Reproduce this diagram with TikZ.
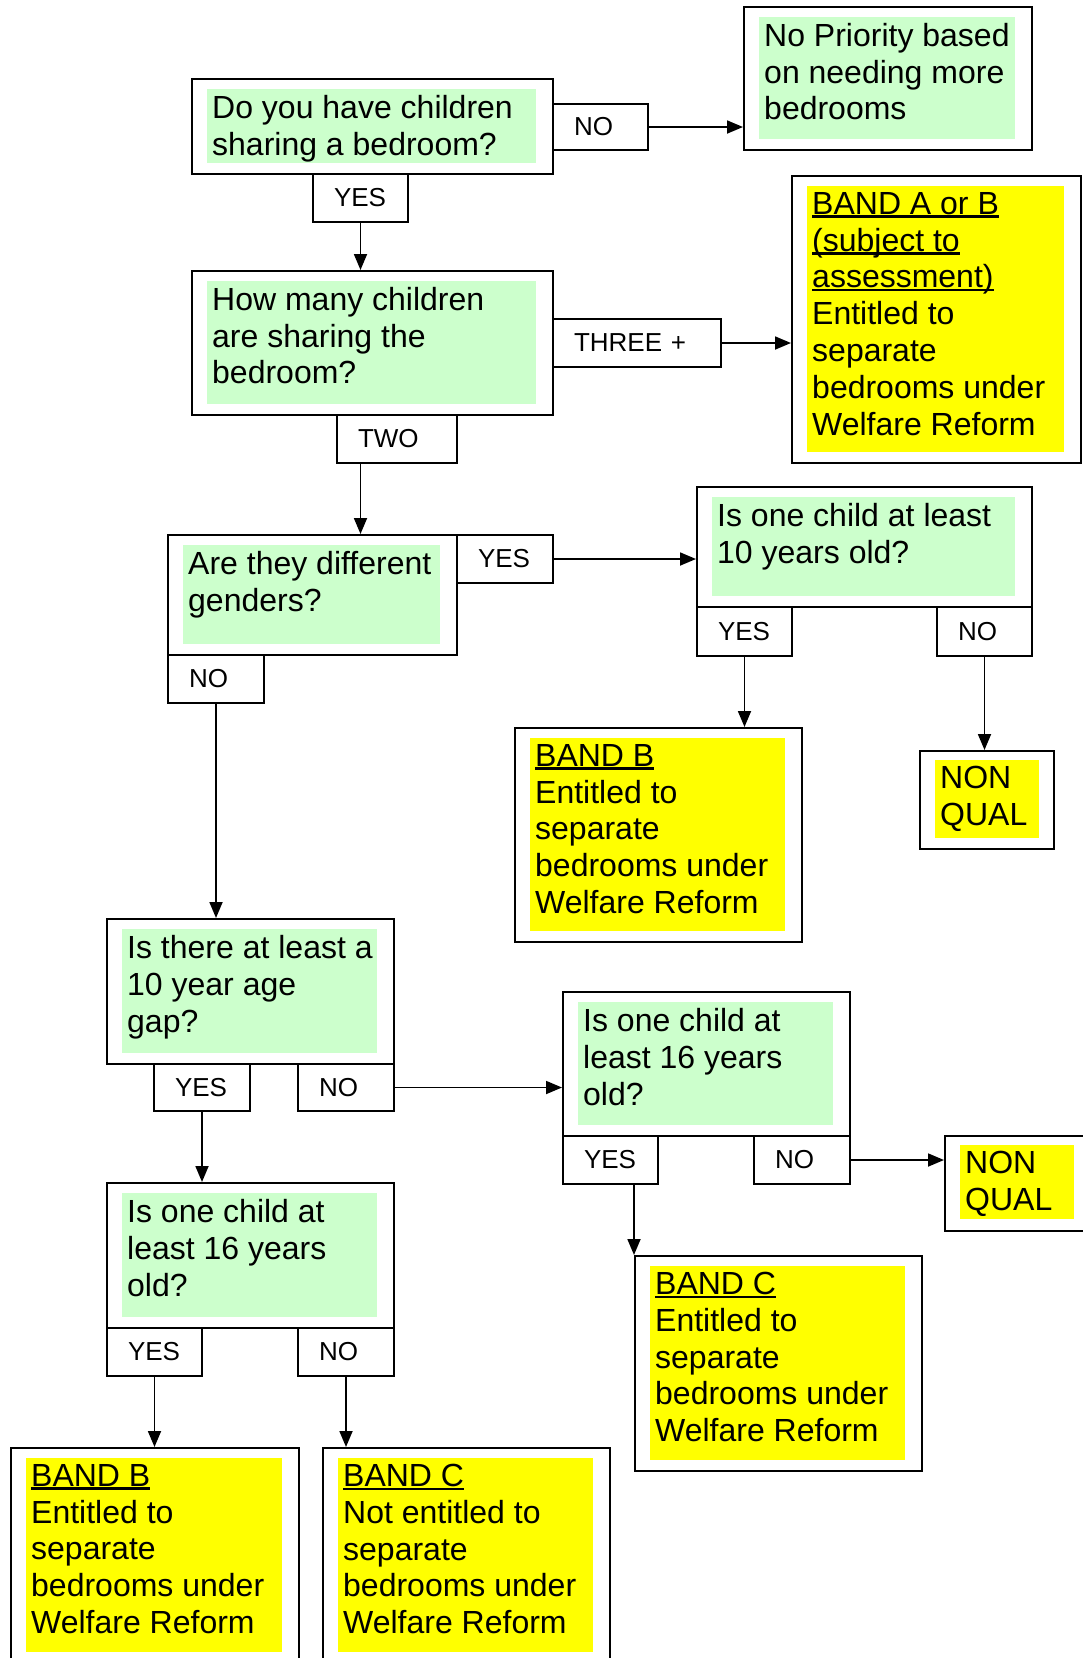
\documentclass[tikz,border=0pt]{standalone}
\usepackage{fontspec}
\setmainfont{Liberation Sans}
\usepackage{tikz}
\usetikzlibrary{arrows.meta}

\definecolor{qgreen}{HTML}{CCFFCC}
\definecolor{byellow}{HTML}{FFFF00}

% underlined heading line inside the band boxes
\newcommand{\ulhead}[1]{\setbox0=\hbox{#1}\rlap{\rule[-3.5pt]{\wd0}{2.4pt}}\box0}

\begin{document}
\begin{tikzpicture}[x=1pt, y=-1pt, >={Triangle[length=16pt,width=13pt]},
		outerbox/.style={draw, line width=2pt, fill=white, anchor=north west, inner sep=0pt},
		greenbg/.style={fill=qgreen, anchor=north west, inner sep=0pt},
		yellowbg/.style={fill=byellow, anchor=north west, inner sep=0pt},
		boxtext/.style={anchor=north west, align=left, inner sep=0pt, font=\fontsize{32}{36.8}\selectfont},
		answer/.style={draw, line width=2pt, fill=white, anchor=north west, inner ysep=0pt, inner xsep=21pt, align=left, font=\fontsize{26}{30}\selectfont},
		link/.style={->, line width=1.8pt}]
		\clip (0,0) rectangle (1083,1658);
		\fill[white] (0,0) rectangle (1083,1658);

		% question boxes
		\node[outerbox, minimum width=361, minimum height=95] (q1) at (191,78) {};
		\node[greenbg, minimum width=329, minimum height=74] (q1bg) at ([shift={(16,11)}]q1.north west) {};
		\node[boxtext] (q1txt) at ([shift={(5,6)}]q1bg.north west) {Do you have children\\sharing a bedroom?};

		\node[outerbox, minimum width=361, minimum height=144] (q2) at (191,270) {};
		\node[greenbg, minimum width=329, minimum height=123] (q2bg) at ([shift={(16,11)}]q2.north west) {};
		\node[boxtext] (q2txt) at ([shift={(5,6)}]q2bg.north west) {How many children\\are sharing the\\bedroom?};

		\node[outerbox, minimum width=289, minimum height=120] (q3) at (167,534) {};
		\node[greenbg, minimum width=257, minimum height=99] (q3bg) at ([shift={(16,11)}]q3.north west) {};
		\node[boxtext] (q3txt) at ([shift={(5,6)}]q3bg.north west) {Are they different\\genders?};

		\node[outerbox, minimum width=335, minimum height=120] (q4) at (696,486) {};
		\node[greenbg, minimum width=303, minimum height=99] (q4bg) at ([shift={(16,11)}]q4.north west) {};
		\node[boxtext] (q4txt) at ([shift={(5,6)}]q4bg.north west) {Is one child at least\\10 years old?};

		\node[outerbox, minimum width=287, minimum height=145] (q5) at (106,918) {};
		\node[greenbg, minimum width=255, minimum height=124] (q5bg) at ([shift={(16,11)}]q5.north west) {};
		\node[boxtext] (q5txt) at ([shift={(5,6)}]q5bg.north west) {Is there at least a\\10 year age\\gap?};

		\node[outerbox, minimum width=287, minimum height=144] (q6) at (562,991) {};
		\node[greenbg, minimum width=255, minimum height=123] (q6bg) at ([shift={(16,11)}]q6.north west) {};
		\node[boxtext] (q6txt) at ([shift={(5,6)}]q6bg.north west) {Is one child at\\least 16 years\\old?};

		\node[outerbox, minimum width=287, minimum height=145] (q7) at (106,1182) {};
		\node[greenbg, minimum width=255, minimum height=124] (q7bg) at ([shift={(16,11)}]q7.north west) {};
		\node[boxtext] (q7txt) at ([shift={(5,6)}]q7bg.north west) {Is one child at\\least 16 years\\old?};

		% outcome boxes
		\node[outerbox, minimum width=288, minimum height=143] (nopri) at (743,6) {};
		\node[greenbg, minimum width=256, minimum height=122] (noprbg) at ([shift={(16,11)}]nopri.north west) {};
		\node[boxtext] (noprtxt) at ([shift={(5,6)}]noprbg.north west) {No Priority based\\on needing more\\bedrooms};

		\node[outerbox, minimum width=289, minimum height=287] (bandab) at (791,175) {};
		\node[yellowbg, minimum width=257, minimum height=266] (bandabbg) at ([shift={(16,11)}]bandab.north west) {};
		\node[boxtext] (bandabtxt) at ([shift={(5,6)}]bandabbg.north west) {\ulhead{BAND A or B}\\\ulhead{(subject to}\\\ulhead{assessment)}\\Entitled to\\separate\\bedrooms under\\Welfare Reform};

		\node[outerbox, minimum width=287, minimum height=214] (bandb1) at (514,727) {};
		\node[yellowbg, minimum width=255, minimum height=193] (bandb1bg) at ([shift={(16,11)}]bandb1.north west) {};
		\node[boxtext] (bandb1txt) at ([shift={(5,6)}]bandb1bg.north west) {\ulhead{BAND B}\\Entitled to\\separate\\bedrooms under\\Welfare Reform};

		\node[outerbox, minimum width=134, minimum height=98] (nonq1) at (919,750) {};
		\node[yellowbg, minimum width=104, minimum height=78] (nonq1bg) at ([shift={(16,10)}]nonq1.north west) {};
		\node[boxtext] (nonq1txt) at ([shift={(5,6)}]nonq1bg.north west) {NON\\QUAL};

		\node[outerbox, minimum width=146, minimum height=95] (nonq2) at (944,1135) {};
		\node[yellowbg, minimum width=114, minimum height=74] (nonq2bg) at ([shift={(16,10)}]nonq2.north west) {};
		\node[boxtext] (nonq2txt) at ([shift={(5,6)}]nonq2bg.north west) {NON\\QUAL};

		\node[outerbox, minimum width=287, minimum height=215] (bandc1) at (634,1255) {};
		\node[yellowbg, minimum width=255, minimum height=194] (bandc1bg) at ([shift={(16,11)}]bandc1.north west) {};
		\node[boxtext] (bandc1txt) at ([shift={(5,6)}]bandc1bg.north west) {\ulhead{BAND C}\\Entitled to\\separate\\bedrooms under\\Welfare Reform};

		\node[outerbox, minimum width=288, minimum height=215] (bandb2) at (10,1447) {};
		\node[yellowbg, minimum width=256, minimum height=194] (bandb2bg) at ([shift={(16,11)}]bandb2.north west) {};
		\node[boxtext] (bandb2txt) at ([shift={(5,6)}]bandb2bg.north west) {\ulhead{BAND B}\\Entitled to\\separate\\bedrooms under\\Welfare Reform};

		\node[outerbox, minimum width=287, minimum height=215] (bandc2) at (322,1447) {};
		\node[yellowbg, minimum width=255, minimum height=194] (bandc2bg) at ([shift={(16,11)}]bandc2.north west) {};
		\node[boxtext] (bandc2txt) at ([shift={(5,6)}]bandc2bg.north west) {\ulhead{BAND C}\\Not entitled to\\separate\\bedrooms under\\Welfare Reform};

		% answer tabs
		\node[answer, text width=53, minimum height=46] (q1no) at (552,103) {NO};
		\node[answer, text width=53, minimum height=48] (q1yes) at (312,173) {YES};
		\node[answer, text width=126, minimum height=48] (q2three) at (552,318) {THREE +};
		\node[answer, text width=78, minimum height=48] (q2two) at (336,414) {TWO};
		\node[answer, text width=54, minimum height=48] (q3yes) at (456,534) {YES};
		\node[answer, text width=54, minimum height=48] (q3no) at (167,654) {NO};
		\node[answer, text width=53, minimum height=49] (q4yes) at (696,606) {YES};
		\node[answer, text width=53, minimum height=49] (q4no) at (936,606) {NO};
		\node[answer, text width=54, minimum height=47] (q5yes) at (153,1063) {YES};
		\node[answer, text width=54, minimum height=47] (q5no) at (297,1063) {NO};
		\node[answer, text width=53, minimum height=48] (q6yes) at (562,1135) {YES};
		\node[answer, text width=54, minimum height=48] (q6no) at (753,1135) {NO};
		\node[answer, text width=53, minimum height=48] (q7yes) at (106,1327) {YES};
		\node[answer, text width=54, minimum height=48] (q7no) at (297,1327) {NO};

		% connectors
		\draw[link] (q1no.east) -- (q1no.east -| nopri.west);
		\draw[link] (q1yes.south) -- (q1yes.south |- q2.north);
		\draw[link] (q2three.east) -- (q2three.east -| bandab.west);
		\draw[link] (q1yes.south |- q2two.south) -- (q1yes.south |- q3.north);
		\draw[link] (q3yes.east) -- (q3yes.east -| q4.west);
		\draw[link] (q3no.south) -- (q3no.south |- q5.north);
		\draw[link] (q4yes.south) -- (q4yes.south |- bandb1.north);
		\draw[link] (q4no.south) -- (q4no.south |- nonq1.north);
		\draw[link] (q5yes.south) -- (q5yes.south |- q7.north);
		\draw[link] (q5no.east) -- (q5no.east -| q6.west);
		\draw[link] (q6yes.south -| bandc1.north west) -- (bandc1.north west);
		\draw[link] (q6no.east) -- (q6no.east -| nonq2.west);
		\draw[link] (q7yes.south) -- (q7yes.south |- bandb2.north);
		\draw[link] (q7no.south) -- (q7no.south |- bandc2.north);
\end{tikzpicture}
\end{document}
